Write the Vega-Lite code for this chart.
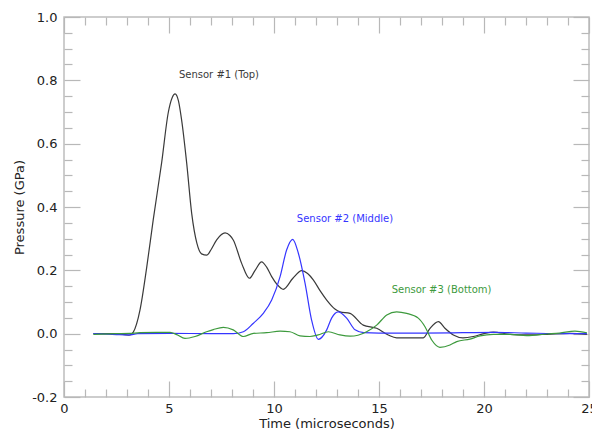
{
  "$schema": "https://vega.github.io/schema/vega-lite/v6.json",
  "width": 525,
  "height": 380,
  "autosize": "none",
  "padding": {"left": 64, "top": 17, "right": 3, "bottom": 33},
  "background": "white",
  "config": {
    "view": {"stroke": "#bdbdbd", "strokeWidth": 1.5},
    "font": "DejaVu Sans",
    "axis": {"grid": false, "domain": false, "tickColor": "#b8b8b8", "tickWidth": 1.2, "labelFont": "DejaVu Sans", "titleFont": "DejaVu Sans", "labelFontSize": 13, "titleFontSize": 13, "labelColor": "#222222", "titleColor": "#222222", "titleFontWeight": "normal"}
  },
  "data": {"values": [
    {"sensor": "Sensor #1 (Top)", "time": 1.4, "pressure": 0.0},
    {"sensor": "Sensor #1 (Top)", "time": 2.5, "pressure": 0.0},
    {"sensor": "Sensor #1 (Top)", "time": 3.1, "pressure": -0.005},
    {"sensor": "Sensor #1 (Top)", "time": 3.3, "pressure": 0.005},
    {"sensor": "Sensor #1 (Top)", "time": 3.62, "pressure": 0.075},
    {"sensor": "Sensor #1 (Top)", "time": 3.94, "pressure": 0.21},
    {"sensor": "Sensor #1 (Top)", "time": 4.25, "pressure": 0.36},
    {"sensor": "Sensor #1 (Top)", "time": 4.65, "pressure": 0.54},
    {"sensor": "Sensor #1 (Top)", "time": 4.97, "pressure": 0.7},
    {"sensor": "Sensor #1 (Top)", "time": 5.15, "pressure": 0.745},
    {"sensor": "Sensor #1 (Top)", "time": 5.29, "pressure": 0.757},
    {"sensor": "Sensor #1 (Top)", "time": 5.45, "pressure": 0.735},
    {"sensor": "Sensor #1 (Top)", "time": 5.6, "pressure": 0.675},
    {"sensor": "Sensor #1 (Top)", "time": 5.84, "pressure": 0.54},
    {"sensor": "Sensor #1 (Top)", "time": 6.08, "pressure": 0.38},
    {"sensor": "Sensor #1 (Top)", "time": 6.33, "pressure": 0.285},
    {"sensor": "Sensor #1 (Top)", "time": 6.55, "pressure": 0.252},
    {"sensor": "Sensor #1 (Top)", "time": 6.8, "pressure": 0.248},
    {"sensor": "Sensor #1 (Top)", "time": 7.0, "pressure": 0.265},
    {"sensor": "Sensor #1 (Top)", "time": 7.27, "pressure": 0.296},
    {"sensor": "Sensor #1 (Top)", "time": 7.67, "pressure": 0.318},
    {"sensor": "Sensor #1 (Top)", "time": 7.9, "pressure": 0.31},
    {"sensor": "Sensor #1 (Top)", "time": 8.06, "pressure": 0.296},
    {"sensor": "Sensor #1 (Top)", "time": 8.46, "pressure": 0.222},
    {"sensor": "Sensor #1 (Top)", "time": 8.83, "pressure": 0.175},
    {"sensor": "Sensor #1 (Top)", "time": 9.1, "pressure": 0.2},
    {"sensor": "Sensor #1 (Top)", "time": 9.41, "pressure": 0.227},
    {"sensor": "Sensor #1 (Top)", "time": 9.65, "pressure": 0.21},
    {"sensor": "Sensor #1 (Top)", "time": 9.89, "pressure": 0.18},
    {"sensor": "Sensor #1 (Top)", "time": 10.15, "pressure": 0.155},
    {"sensor": "Sensor #1 (Top)", "time": 10.44, "pressure": 0.14},
    {"sensor": "Sensor #1 (Top)", "time": 10.9, "pressure": 0.175},
    {"sensor": "Sensor #1 (Top)", "time": 11.32, "pressure": 0.199},
    {"sensor": "Sensor #1 (Top)", "time": 11.6, "pressure": 0.19},
    {"sensor": "Sensor #1 (Top)", "time": 11.87, "pressure": 0.17},
    {"sensor": "Sensor #1 (Top)", "time": 12.2, "pressure": 0.135},
    {"sensor": "Sensor #1 (Top)", "time": 12.51, "pressure": 0.106},
    {"sensor": "Sensor #1 (Top)", "time": 12.9, "pressure": 0.078},
    {"sensor": "Sensor #1 (Top)", "time": 13.14, "pressure": 0.069},
    {"sensor": "Sensor #1 (Top)", "time": 13.62, "pressure": 0.064},
    {"sensor": "Sensor #1 (Top)", "time": 14.25, "pressure": 0.027},
    {"sensor": "Sensor #1 (Top)", "time": 14.89, "pressure": 0.017},
    {"sensor": "Sensor #1 (Top)", "time": 15.44, "pressure": -0.004},
    {"sensor": "Sensor #1 (Top)", "time": 15.84, "pressure": -0.013},
    {"sensor": "Sensor #1 (Top)", "time": 16.5, "pressure": -0.013},
    {"sensor": "Sensor #1 (Top)", "time": 17.11, "pressure": -0.013},
    {"sensor": "Sensor #1 (Top)", "time": 17.43, "pressure": 0.017},
    {"sensor": "Sensor #1 (Top)", "time": 17.83, "pressure": 0.038},
    {"sensor": "Sensor #1 (Top)", "time": 18.14, "pressure": 0.017},
    {"sensor": "Sensor #1 (Top)", "time": 18.54, "pressure": -0.004},
    {"sensor": "Sensor #1 (Top)", "time": 19.0, "pressure": -0.013},
    {"sensor": "Sensor #1 (Top)", "time": 19.49, "pressure": -0.009},
    {"sensor": "Sensor #1 (Top)", "time": 20.0, "pressure": 0.0},
    {"sensor": "Sensor #1 (Top)", "time": 20.44, "pressure": 0.005},
    {"sensor": "Sensor #1 (Top)", "time": 21.24, "pressure": -0.002},
    {"sensor": "Sensor #1 (Top)", "time": 22.03, "pressure": -0.004},
    {"sensor": "Sensor #1 (Top)", "time": 23.0, "pressure": -0.002},
    {"sensor": "Sensor #1 (Top)", "time": 24.1, "pressure": 0.001},
    {"sensor": "Sensor #1 (Top)", "time": 24.9, "pressure": -0.002},
    {"sensor": "Sensor #2 (Middle)", "time": 1.4, "pressure": 0.0},
    {"sensor": "Sensor #2 (Middle)", "time": 2.5, "pressure": -0.003},
    {"sensor": "Sensor #2 (Middle)", "time": 3.1, "pressure": -0.004},
    {"sensor": "Sensor #2 (Middle)", "time": 3.5, "pressure": 0.0},
    {"sensor": "Sensor #2 (Middle)", "time": 5.0, "pressure": 0.001},
    {"sensor": "Sensor #2 (Middle)", "time": 7.0, "pressure": 0.0},
    {"sensor": "Sensor #2 (Middle)", "time": 8.06, "pressure": 0.0},
    {"sensor": "Sensor #2 (Middle)", "time": 8.54, "pressure": 0.006},
    {"sensor": "Sensor #2 (Middle)", "time": 9.02, "pressure": 0.033},
    {"sensor": "Sensor #2 (Middle)", "time": 9.49, "pressure": 0.064},
    {"sensor": "Sensor #2 (Middle)", "time": 9.89, "pressure": 0.106},
    {"sensor": "Sensor #2 (Middle)", "time": 10.29, "pressure": 0.18},
    {"sensor": "Sensor #2 (Middle)", "time": 10.6, "pressure": 0.264},
    {"sensor": "Sensor #2 (Middle)", "time": 10.89, "pressure": 0.298},
    {"sensor": "Sensor #2 (Middle)", "time": 11.16, "pressure": 0.254},
    {"sensor": "Sensor #2 (Middle)", "time": 11.48, "pressure": 0.159},
    {"sensor": "Sensor #2 (Middle)", "time": 11.79, "pressure": 0.043},
    {"sensor": "Sensor #2 (Middle)", "time": 12.11, "pressure": -0.018},
    {"sensor": "Sensor #2 (Middle)", "time": 12.51, "pressure": 0.012},
    {"sensor": "Sensor #2 (Middle)", "time": 12.75, "pressure": 0.05},
    {"sensor": "Sensor #2 (Middle)", "time": 13.06, "pressure": 0.069},
    {"sensor": "Sensor #2 (Middle)", "time": 13.46, "pressure": 0.049},
    {"sensor": "Sensor #2 (Middle)", "time": 13.86, "pressure": 0.012},
    {"sensor": "Sensor #2 (Middle)", "time": 14.27, "pressure": 0.003},
    {"sensor": "Sensor #2 (Middle)", "time": 15.0, "pressure": 0.002},
    {"sensor": "Sensor #2 (Middle)", "time": 17.0, "pressure": 0.002},
    {"sensor": "Sensor #2 (Middle)", "time": 19.0, "pressure": 0.003},
    {"sensor": "Sensor #2 (Middle)", "time": 20.5, "pressure": 0.004},
    {"sensor": "Sensor #2 (Middle)", "time": 22.0, "pressure": 0.002},
    {"sensor": "Sensor #2 (Middle)", "time": 24.0, "pressure": 0.0},
    {"sensor": "Sensor #2 (Middle)", "time": 24.9, "pressure": 0.0},
    {"sensor": "Sensor #3 (Bottom)", "time": 1.4, "pressure": -0.002},
    {"sensor": "Sensor #3 (Bottom)", "time": 2.5, "pressure": 0.0},
    {"sensor": "Sensor #3 (Bottom)", "time": 3.14, "pressure": 0.001},
    {"sensor": "Sensor #3 (Bottom)", "time": 3.62, "pressure": 0.003},
    {"sensor": "Sensor #3 (Bottom)", "time": 4.41, "pressure": 0.004},
    {"sensor": "Sensor #3 (Bottom)", "time": 5.05, "pressure": 0.004},
    {"sensor": "Sensor #3 (Bottom)", "time": 5.37, "pressure": -0.003},
    {"sensor": "Sensor #3 (Bottom)", "time": 5.76, "pressure": -0.015},
    {"sensor": "Sensor #3 (Bottom)", "time": 6.24, "pressure": -0.009},
    {"sensor": "Sensor #3 (Bottom)", "time": 6.79, "pressure": 0.006},
    {"sensor": "Sensor #3 (Bottom)", "time": 7.11, "pressure": 0.013},
    {"sensor": "Sensor #3 (Bottom)", "time": 7.59, "pressure": 0.02},
    {"sensor": "Sensor #3 (Bottom)", "time": 8.06, "pressure": 0.012},
    {"sensor": "Sensor #3 (Bottom)", "time": 8.54, "pressure": -0.009},
    {"sensor": "Sensor #3 (Bottom)", "time": 9.02, "pressure": 0.001},
    {"sensor": "Sensor #3 (Bottom)", "time": 9.65, "pressure": 0.003},
    {"sensor": "Sensor #3 (Bottom)", "time": 10.29, "pressure": 0.008},
    {"sensor": "Sensor #3 (Bottom)", "time": 10.76, "pressure": 0.006},
    {"sensor": "Sensor #3 (Bottom)", "time": 11.24, "pressure": -0.007},
    {"sensor": "Sensor #3 (Bottom)", "time": 11.71, "pressure": -0.009},
    {"sensor": "Sensor #3 (Bottom)", "time": 12.1, "pressure": -0.004},
    {"sensor": "Sensor #3 (Bottom)", "time": 12.59, "pressure": 0.006},
    {"sensor": "Sensor #3 (Bottom)", "time": 13.14, "pressure": -0.004},
    {"sensor": "Sensor #3 (Bottom)", "time": 13.62, "pressure": -0.008},
    {"sensor": "Sensor #3 (Bottom)", "time": 14.0, "pressure": -0.005},
    {"sensor": "Sensor #3 (Bottom)", "time": 14.41, "pressure": 0.006},
    {"sensor": "Sensor #3 (Bottom)", "time": 14.89, "pressure": 0.027},
    {"sensor": "Sensor #3 (Bottom)", "time": 15.37, "pressure": 0.059},
    {"sensor": "Sensor #3 (Bottom)", "time": 15.84, "pressure": 0.069},
    {"sensor": "Sensor #3 (Bottom)", "time": 16.32, "pressure": 0.064},
    {"sensor": "Sensor #3 (Bottom)", "time": 16.87, "pressure": 0.049},
    {"sensor": "Sensor #3 (Bottom)", "time": 17.19, "pressure": 0.022},
    {"sensor": "Sensor #3 (Bottom)", "time": 17.51, "pressure": -0.02},
    {"sensor": "Sensor #3 (Bottom)", "time": 17.9, "pressure": -0.043},
    {"sensor": "Sensor #3 (Bottom)", "time": 18.38, "pressure": -0.036},
    {"sensor": "Sensor #3 (Bottom)", "time": 18.7, "pressure": -0.025},
    {"sensor": "Sensor #3 (Bottom)", "time": 19.33, "pressure": -0.017},
    {"sensor": "Sensor #3 (Bottom)", "time": 19.81, "pressure": -0.007},
    {"sensor": "Sensor #3 (Bottom)", "time": 20.44, "pressure": -0.002},
    {"sensor": "Sensor #3 (Bottom)", "time": 21.24, "pressure": -0.002},
    {"sensor": "Sensor #3 (Bottom)", "time": 22.03, "pressure": -0.006},
    {"sensor": "Sensor #3 (Bottom)", "time": 23.0, "pressure": -0.001},
    {"sensor": "Sensor #3 (Bottom)", "time": 23.6, "pressure": 0.002},
    {"sensor": "Sensor #3 (Bottom)", "time": 24.33, "pressure": 0.008},
    {"sensor": "Sensor #3 (Bottom)", "time": 24.9, "pressure": 0.003}
  ]},
  "resolve": {"axis": {"x": "independent", "y": "independent"}},
  "layer": [
    {
      "mark": {"type": "line", "interpolate": "monotone", "strokeWidth": 1.2},
      "encoding": {
        "x": {"field": "time", "type": "quantitative", "scale": {"domain": [0, 25], "nice": false, "zero": false},
              "axis": {"orient": "bottom", "values": [0, 5, 10, 15, 20, 25], "ticks": false, "tickSize": 0, "labelPadding": 5, "title": "Time (microseconds)", "titlePadding": 2, "labelFlush": false, "labelOverlap": false}},
        "y": {"field": "pressure", "type": "quantitative", "scale": {"domain": [-0.2, 1.0], "nice": false, "zero": false},
              "axis": {"orient": "left", "values": [-0.2, 0, 0.2, 0.4, 0.6, 0.8, 1.0], "labelExpr": "datum.value < 0 ? '-' + format(-datum.value, '.1f') : format(datum.value, '.1f')", "ticks": false, "tickSize": 0, "labelPadding": 7, "title": "Pressure (GPa)", "titlePadding": 5, "labelFlush": false, "labelOverlap": false}},
        "color": {"field": "sensor", "type": "nominal", "legend": null,
                  "scale": {"domain": ["Sensor #1 (Top)", "Sensor #2 (Middle)", "Sensor #3 (Bottom)"], "range": ["#3a3a3a", "#3535ff", "#3d9a3d"]}},
        "detail": {"field": "sensor"}
      }
    },
    {
      "mark": {"type": "point", "opacity": 0},
      "encoding": {
        "x": {"field": "time", "type": "quantitative", "scale": {"domain": [0, 25], "nice": false, "zero": false},
              "axis": {"orient": "bottom", "values": [0, 5, 10, 15, 20, 25], "labels": false, "tickSize": -16, "title": null}},
        "y": {"field": "pressure", "type": "quantitative", "scale": {"domain": [-0.2, 1.0], "nice": false, "zero": false},
              "axis": {"orient": "left", "values": [-0.2, 0, 0.2, 0.4, 0.6, 0.8, 1.0], "labels": false, "tickSize": -16, "title": null}}
      }
    },
    {
      "mark": {"type": "point", "opacity": 0},
      "encoding": {
        "x": {"field": "time", "type": "quantitative", "scale": {"domain": [0, 25], "nice": false, "zero": false},
              "axis": {"orient": "bottom", "values": [1, 2, 3, 4, 6, 7, 8, 9, 11, 12, 13, 14, 16, 17, 18, 19, 21, 22, 23, 24], "labels": false, "tickSize": -8, "title": null}},
        "y": {"field": "pressure", "type": "quantitative", "scale": {"domain": [-0.2, 1.0], "nice": false, "zero": false},
              "axis": {"orient": "left", "values": [-0.15, -0.1, -0.05, 0.05, 0.1, 0.15, 0.25, 0.3, 0.35, 0.45, 0.5, 0.55, 0.65, 0.7, 0.75, 0.85, 0.9, 0.95], "labels": false, "tickSize": -8, "title": null}}
      }
    },
    {
      "mark": {"type": "point", "opacity": 0},
      "encoding": {
        "x": {"field": "time", "type": "quantitative", "scale": {"domain": [0, 25], "nice": false, "zero": false},
              "axis": {"orient": "top", "values": [0, 5, 10, 15, 20, 25], "labels": false, "tickSize": -16, "title": null}},
        "y": {"field": "pressure", "type": "quantitative", "scale": {"domain": [-0.2, 1.0], "nice": false, "zero": false},
              "axis": {"orient": "right", "values": [-0.2, 0, 0.2, 0.4, 0.6, 0.8, 1.0], "labels": false, "tickSize": -16, "title": null}}
      }
    },
    {
      "mark": {"type": "point", "opacity": 0},
      "encoding": {
        "x": {"field": "time", "type": "quantitative", "scale": {"domain": [0, 25], "nice": false, "zero": false},
              "axis": {"orient": "top", "values": [1, 2, 3, 4, 6, 7, 8, 9, 11, 12, 13, 14, 16, 17, 18, 19, 21, 22, 23, 24], "labels": false, "tickSize": -8, "title": null}},
        "y": {"field": "pressure", "type": "quantitative", "scale": {"domain": [-0.2, 1.0], "nice": false, "zero": false},
              "axis": {"orient": "right", "values": [-0.15, -0.1, -0.05, 0.05, 0.1, 0.15, 0.25, 0.3, 0.35, 0.45, 0.5, 0.55, 0.65, 0.7, 0.75, 0.85, 0.9, 0.95], "labels": false, "tickSize": -8, "title": null}}
      }
    },
    {
      "data": {"values": [
        {"sensor": "Sensor #1 (Top)", "time": 7.38, "pressure": 0.817},
        {"sensor": "Sensor #2 (Middle)", "time": 13.38, "pressure": 0.362},
        {"sensor": "Sensor #3 (Bottom)", "time": 17.98, "pressure": 0.138}
      ]},
      "mark": {"type": "text", "fontSize": 10, "font": "DejaVu Sans", "align": "center", "baseline": "middle"},
      "encoding": {
        "x": {"field": "time", "type": "quantitative", "axis": null, "scale": {"domain": [0, 25], "nice": false, "zero": false}},
        "y": {"field": "pressure", "type": "quantitative", "axis": null, "scale": {"domain": [-0.2, 1.0], "nice": false, "zero": false}},
        "text": {"field": "sensor"},
        "color": {"field": "sensor", "type": "nominal", "legend": null,
                  "scale": {"domain": ["Sensor #1 (Top)", "Sensor #2 (Middle)", "Sensor #3 (Bottom)"], "range": ["#3a3a3a", "#3535ff", "#3d9a3d"]}}
      }
    }
  ]
}
